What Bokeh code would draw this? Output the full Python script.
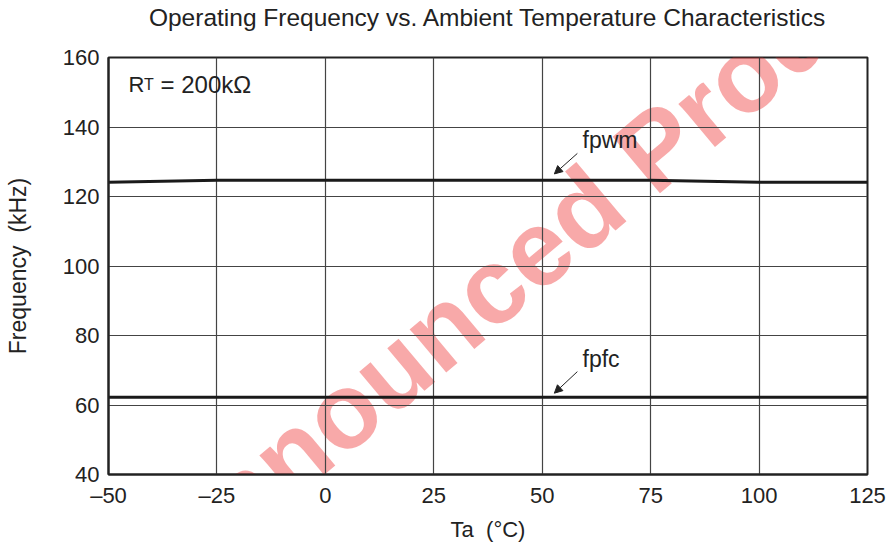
from bokeh.plotting import figure
from bokeh.models import FixedTicker, Label, Arrow, NormalHead, Range1d
from bokeh.core.properties import value
from bokeh.embed import file_html
from bokeh.resources import INLINE

# ---- data ----
temps = [-50, -25, 0, 25, 50, 75, 100, 125]
fpwm = [124.1, 124.7, 124.7, 124.7, 124.7, 124.7, 124.1, 124.1]
fpfc = [62.2, 62.2, 62.2, 62.2, 62.2, 62.2, 62.2, 62.2]
x_ticks = [-50, -25, 0, 25, 50, 75, 100, 125]
x_tick_labels = ["–50", "–25", "0", "25", "50", "75", "100", "125"]
y_ticks = [40, 60, 80, 100, 120, 140, 160]
title_text = "Operating Frequency vs. Ambient Temperature Characteristics"
x_label = "Ta\u00a0\u00a0(°C)"
y_label = "Frequency\u00a0\u00a0(kHz)"

FONT = "Liberation Sans"
INK = "#222222"

p = figure(width=892, height=549, output_backend="svg", toolbar_location=None,
           x_range=Range1d(-50, 125), y_range=Range1d(40, 160),
           min_border_left=108, min_border_right=25, min_border_top=57, min_border_bottom=75,
           title=title_text + "\n\u00a0")

# the blank second line lifts the title away from the frame
p.title.align = "center"
p.title.vertical_align = "bottom"
p.title.text_font = FONT
p.title.text_font_size = "24.5px"
p.title.text_font_style = "normal"
p.title.text_color = INK
p.title.standoff = 0

# watermark (behind everything)
wm = Label(x=40.5, y=96.5, text="Unannounced Product", angle=0.698,
           text_align="center", text_baseline="middle",
           text_font=FONT, text_font_size="107px", text_font_style="bold",
           text_color="#ee3333", text_alpha=0.42, level="image")
p.add_layout(wm)

p.outline_line_color = INK
p.outline_line_width = 2

for ax in (p.xaxis[0], p.yaxis[0]):
    ax.major_tick_line_color = None
    ax.minor_tick_line_color = None
    ax.major_tick_out = 0
    ax.major_tick_in = 0
    ax.minor_tick_out = 0
    ax.minor_tick_in = 0
    ax.axis_line_color = INK
    ax.axis_line_width = 2
    ax.major_label_text_font = FONT
    ax.major_label_text_font_size = "22px"
    ax.major_label_text_color = INK
    ax.axis_label_text_font = FONT
    ax.axis_label_text_font_size = "22px"
    ax.axis_label_text_font_style = "normal"
    ax.axis_label_text_color = INK

p.yaxis.axis_label_text_font_size = "23px"

p.xaxis.ticker = FixedTicker(ticks=x_ticks)
p.xaxis.major_label_overrides = {t: l for t, l in zip(x_ticks, x_tick_labels)}
p.yaxis.ticker = FixedTicker(ticks=y_ticks)
p.xaxis.axis_label = x_label
p.yaxis.axis_label = y_label
p.xaxis.major_label_standoff = 8
p.yaxis.major_label_standoff = 9
p.xaxis.axis_label_standoff = 6
p.yaxis.axis_label_standoff = 29

p.xgrid.ticker = FixedTicker(ticks=x_ticks)
p.ygrid.ticker = FixedTicker(ticks=y_ticks)
for g in (p.xgrid[0], p.ygrid[0]):
    g.grid_line_color = "#444444"
    g.grid_line_width = 1.2

p.line(temps, fpwm, line_color="#1a1a1a", line_width=3)
p.line(temps, fpfc, line_color="#1a1a1a", line_width=3)

# arrows and labels
p.add_layout(Arrow(x_start=58.1, y_start=132.4, x_end=52.8, y_end=126.5,
                   line_width=1, line_color=INK,
                   end=NormalHead(size=8, fill_color=INK, line_color=INK)))
p.add_layout(Arrow(x_start=58.1, y_start=69.6, x_end=52.8, y_end=63.4,
                   line_width=1, line_color=INK,
                   end=NormalHead(size=8, fill_color=INK, line_color=INK)))

p.text(x=[59.3], y=[136.4], text=["fpwm"], text_font=value(FONT), text_font_size="23px",
       text_baseline="middle", text_align="left", text_color=INK)
p.text(x=[59.3], y=[73.3], text=["fpfc"], text_font=value(FONT), text_font_size="23px",
       text_baseline="middle", text_align="left", text_color=INK)

p.text(x=[-45.4], y=[152.1], text=["R"], text_font=value(FONT), text_font_size="22px",
       text_baseline="alphabetic", text_align="left", text_color=INK)
p.text(x=[-41.8], y=[152.1], text=["T"], text_font=value(FONT), text_font_size="16px",
       text_baseline="alphabetic", text_align="left", text_color=INK)
p.text(x=[-38.0], y=[152.1], text=["= 200kΩ"], text_font=value(FONT), text_font_size="24px",
       text_baseline="alphabetic", text_align="left", text_color=INK)

open("out.html", "w").write(file_html(p, INLINE))
